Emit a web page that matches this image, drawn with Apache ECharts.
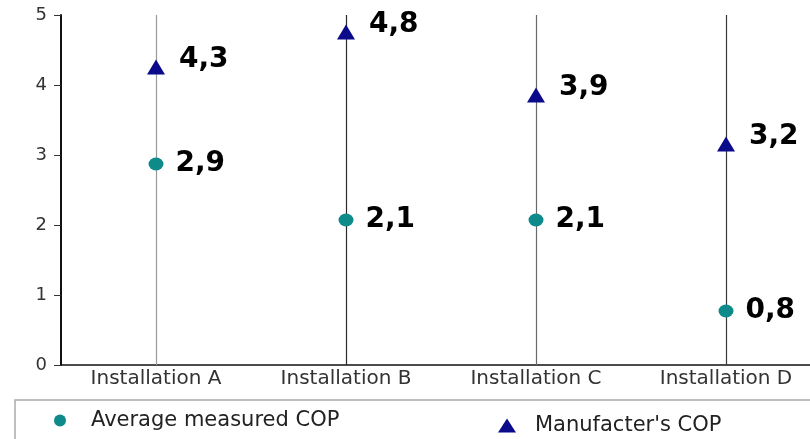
<!DOCTYPE html>
<html>
<head>
<meta charset="utf-8">
<script src="https://cdn.jsdelivr.net/npm/echarts@6/dist/echarts.min.js"></script>
<style>
html,body{margin:0;padding:0;background:#fff;overflow:hidden;width:810px;height:439px;}
#chart{width:822px;height:439px;}
</style>
</head>
<body>
<div id="chart"></div>
<script>
var categories = ['Installation A', 'Installation B', 'Installation C', 'Installation D'];
var averageMeasured = [2.9, 2.1, 2.1, 0.8];
var manufacturer = [4.3, 4.8, 3.9, 3.2];
var seriesNames = ['Average measured COP', "Manufacter's COP"];
var stemColors = ['#9a9a9a', '#2a2a2a', '#6a6a6a', '#3a3a3a'];

var chart = echarts.init(document.getElementById('chart'));
var fmt = function (p) { return String(p.value).replace('.', ','); };
var labelFont = { fontFamily: 'DejaVu Sans', fontWeight: 'bold', fontSize: 28, color: '#000' };

chart.setOption({
  animation: false,
  backgroundColor: '#fff',
  grid: { left: 61, top: 15, width: 760, height: 350, containLabel: false },
  xAxis: {
    type: 'category',
    data: categories,
    boundaryGap: true,
    axisLine: { lineStyle: { color: '#111', width: 1.5 } },
    axisTick: { show: false },
    axisLabel: { margin: 4, fontFamily: 'DejaVu Sans', fontSize: 20, color: '#333' },
    splitLine: { show: false }
  },
  yAxis: {
    type: 'value',
    min: 0, max: 5, interval: 1,
    axisLine: { show: true, lineStyle: { color: '#111', width: 2 } },
    axisTick: { show: true, length: 7, lineStyle: { color: '#333', width: 1 } },
    axisLabel: { margin: 14, fontFamily: 'DejaVu Sans', fontSize: 18, color: '#333' },
    splitLine: { show: false }
  },
  legend: [
    {
      data: [{ name: seriesNames[0], icon: 'circle' }],
      left: 49, top: 405,
      itemWidth: 14, itemHeight: 12,
      textStyle: { fontFamily: 'DejaVu Sans', fontSize: 21, color: '#222', padding: [0, 0, 0, 19] }
    },
    {
      data: [{ name: seriesNames[1], icon: 'triangle' }],
      left: 493, top: 410,
      itemWidth: 18, itemHeight: 14,
      textStyle: { fontFamily: 'DejaVu Sans', fontSize: 21, color: '#222', padding: [0, 0, 0, 14] }
    }
  ],
  graphic: [
    {
      type: 'rect', silent: true, z: -1,
      shape: { x: 15, y: 400, width: 820, height: 60 },
      style: { fill: 'none', stroke: '#aaa', lineWidth: 1.5 }
    }
  ],
  series: [
    {
      name: seriesNames[0],
      type: 'scatter',
      data: averageMeasured,
      symbol: 'circle',
      symbolSize: [15, 13],
      symbolOffset: [0, 2],
      itemStyle: { color: '#0e8a8a', opacity: 1 },
      z: 5,
      label: Object.assign({ show: true, position: 'right', distance: 12, formatter: fmt }, labelFont),
      markLine: {
        silent: true,
        symbol: 'none',
        label: { show: false },
        z: 1,
        data: categories.map(function (c, i) {
          return { xAxis: c, lineStyle: { color: stemColors[i], width: 1.2, type: 'solid', opacity: 1 } };
        })
      }
    },
    {
      name: seriesNames[1],
      type: 'scatter',
      data: manufacturer,
      symbol: 'triangle',
      symbolSize: [18, 15],
      symbolOffset: [0, 3],
      itemStyle: { color: '#0a0a8a', opacity: 1 },
      z: 5,
      label: Object.assign({ show: true, position: 'right', distance: 14, offset: [0, -7], formatter: fmt }, labelFont)
    }
  ]
});
</script>
</body>
</html>
